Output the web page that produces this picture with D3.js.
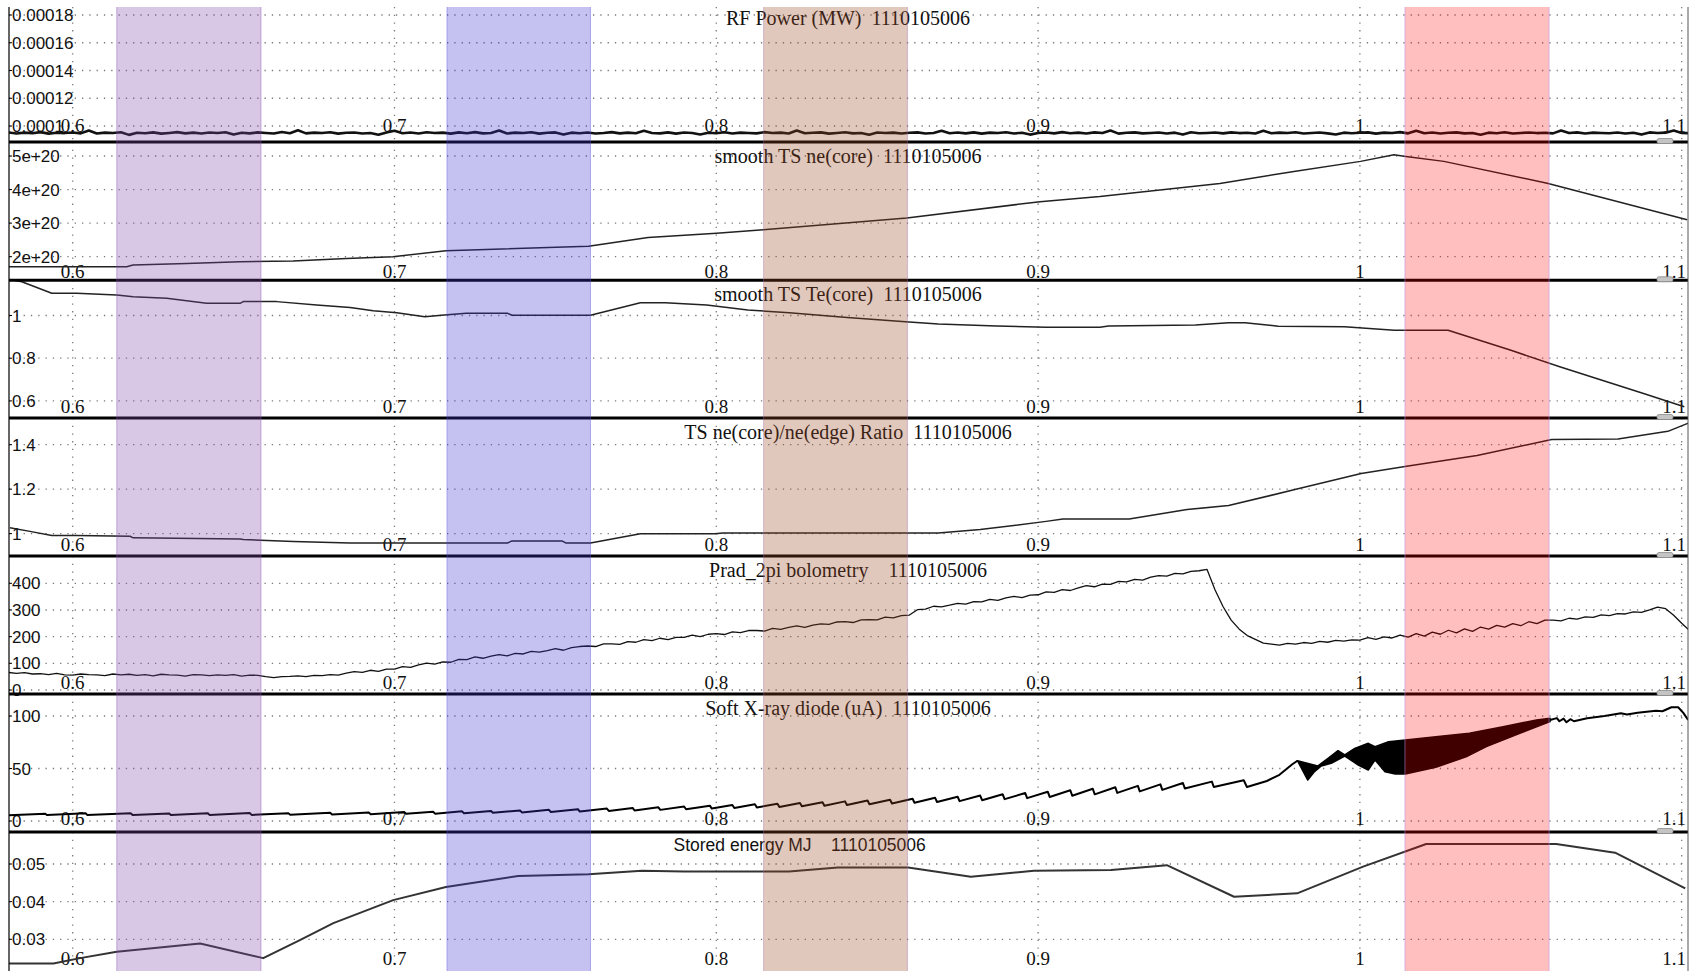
<!DOCTYPE html>
<html><head><meta charset="utf-8">
<script src="https://cdn.jsdelivr.net/npm/d3@7/dist/d3.min.js"></script>
<style>
body{margin:0;background:#fff}
svg{display:block}
text{white-space:pre}
</style>
</head><body>
<svg id="chart" width="1694" height="971"></svg>
<script>
// ---------------- DATA ----------------
const shot = "1110105006";
const xTicks = [0.6, 0.7, 0.8, 0.9, 1.0, 1.1];
const xTickLabels = ["0.6", "0.7", "0.8", "0.9", "1", "1.1"];

// highlighted time windows (s)
const bandStart = [0.6137, 0.7163, 0.8147, 1.0140];
const bandEnd   = [0.6585, 0.7609, 0.8594, 1.0588];

// Panel 1: RF Power (MW), sampled every 2.5 ms from 0.58 s, values in units of 1e-6 MW
const rfStart = 0.58, rfStep = 0.0025, rfUnit = 1e-6;
const rfPower = [
 95.4,94.6,95.2,94.8,95.6,94.5,95.1,94.9,
 95.3,94.7,96.8,94.6,95.2,94.9,95.5,93.6,
 95.1,94.8,95.4,94.5,95.0,95.6,94.7,95.2,
 94.6,95.3,94.9,95.5,93.8,95.1,94.7,95.4,
 95.0,94.6,95.7,94.8,96.9,94.7,95.2,94.9,
 95.5,94.5,95.1,95.3,94.6,95.0,93.7,95.4,
 96.6,94.8,95.3,94.6,95.5,94.9,95.2,94.5,
 95.4,94.8,95.6,94.7,95.0,96.7,94.6,95.2,
 94.9,95.5,94.5,95.1,95.4,93.8,95.2,94.8,
 95.3,94.6,95.0,95.6,94.7,95.2,94.8,96.5,
 95.0,94.7,95.4,94.5,95.3,94.9,93.9,95.1,
 94.8,95.5,94.6,95.2,95.0,94.7,95.6,94.9,
 95.2,94.6,96.8,94.8,95.1,95.4,94.5,95.0,
 95.5,94.7,95.0,93.7,95.3,94.9,95.2,94.6,
 95.1,95.4,94.6,95.0,96.6,94.8,95.3,94.7,
 95.4,94.5,95.2,94.9,95.5,94.6,95.1,93.8,
 95.0,95.3,94.7,95.6,94.8,95.2,94.6,95.4,
 94.9,96.7,94.5,95.1,95.4,94.7,95.0,95.3,
 94.6,95.2,93.8,95.5,94.8,95.0,95.3,94.7,
 95.4,94.9,95.1,94.6,96.5,94.8,95.2,94.9,
 95.5,94.6,95.0,95.3,94.7,93.9,95.2,94.8,
 95.1,95.4,94.5,95.2,94.9,95.6,94.7,96.6,
 94.8,95.3,94.6,95.1,95.4,94.7,95.0,93.7,
 95.2,94.8,95.5,94.6,95.0,95.3,94.9,95.1,
 94.7,96.8,94.9,95.4,94.6,95.2,95.0,94.8,
 95.3,94.6,95.1,93.8,95.4,94.9,95.2,96.7,
 95.0,94.8
];
const rfTicks = [0.00018, 0.00016, 0.00014, 0.00012, 0.0001];
const rfTickLabels = ["0.00018", "0.00016", "0.00014", "0.00012", "0.0001"];

// Panel 2: smooth TS ne(core) [t, m^-3]
const neCore = [
 [0.5802,1.70e20],[0.6168,1.70e20],[0.6187,1.75e20],[0.6354,1.80e20],[0.6520,1.85e20],
 [0.6685,1.87e20],[0.6851,1.95e20],[0.6995,2.00e20],[0.7160,2.18e20],[0.7603,2.31e20],
 [0.7788,2.57e20],[0.8001,2.70e20],[0.8146,2.80e20],[0.8592,3.15e20],[0.9006,3.64e20],
 [0.9192,3.79e20],[0.9565,4.18e20],[0.9795,4.54e20],[1.0002,4.84e20],[1.0106,5.04e20],
 [1.0137,4.99e20],[1.0261,4.84e20],[1.0582,4.19e20],[1.1017,3.10e20]
];
const neTicks = [5e20, 4e20, 3e20, 2e20];
const neTickLabels = ["5e+20", "4e+20", "3e+20", "2e+20"];

// Panel 3: smooth TS Te(core) [t, keV]
const teCore = [
 [0.5802,1.170],[0.5842,1.158],[0.5935,1.104],[0.6012,1.104],[0.6137,1.096],[0.6188,1.088],
 [0.6292,1.081],[0.6416,1.057],[0.6520,1.057],[0.6530,1.065],[0.6634,1.065],[0.6758,1.049],
 [0.6862,1.038],[0.6934,1.022],[0.7007,1.013],[0.7094,0.994],[0.7146,1.001],[0.7223,1.010],
 [0.7352,1.010],[0.7365,1.001],[0.7609,1.001],[0.7764,1.060],[0.7841,1.060],[0.7970,1.049],
 [0.8098,1.026],[0.8227,1.013],[0.8407,0.991],[0.8588,0.971],[0.8690,0.960],[0.8871,0.951],
 [0.9025,0.945],[0.9192,0.945],[0.9219,0.951],[0.9489,0.956],[0.9592,0.966],[0.9643,0.966],
 [0.9746,0.950],[0.9952,0.947],[1.0107,0.931],[1.0274,0.931],[1.0467,0.838],[1.0621,0.760],
 [1.0879,0.636],[1.1008,0.573]
];
const teTicks = [1, 0.8, 0.6];
const teTickLabels = ["1", "0.8", "0.6"];

// Panel 4: TS ne(core)/ne(edge) ratio
const neRatio = [
 [0.5805,1.026],[0.5867,1.010],[0.5935,0.991],[0.6012,0.991],[0.6178,0.988],[0.6188,0.981],
 [0.6520,0.976],[0.6530,0.973],[0.6686,0.965],[0.6862,0.958],[0.7017,0.958],[0.7352,0.958],
 [0.7365,0.967],[0.7520,0.967],[0.7532,0.958],[0.7609,0.958],[0.7764,0.999],[0.7995,0.999],
 [0.8021,1.003],[0.8690,1.003],[0.8820,1.018],[0.9025,1.055],[0.9077,1.066],[0.9283,1.066],
 [0.9463,1.108],[0.9592,1.126],[0.9798,1.198],[1.0004,1.270],[1.0145,1.303],[1.0364,1.351],
 [1.0596,1.423],[1.0802,1.426],[1.0957,1.460],[1.1034,1.505]
];
const ratioTicks = [1.4, 1.2, 1];
const ratioTickLabels = ["1.4", "1.2", "1"];

// Panel 5: Prad_2pi bolometry, sampled every 2.5 ms from 0.58 s
const pradStart = 0.58, pradStep = 0.0025;
const prad = [
 66,62,65,60,61,58,62,57,
 56,60,58,57,54,60,57,59,
 55,58,53,59,57,56,52,58,
 57,54,57,55,58,52,56,55,
 50,46,50,51,53,50,55,54,
 58,56,63,69,66,74,70,78,
 78,88,85,94,101,97,105,104,
 115,114,124,119,127,133,128,137,
 135,145,142,148,155,149,159,163,
 165,163,173,173,171,181,179,189,
 185,194,189,197,197,206,200,209,
 211,208,218,215,223,223,221,231,
 227,235,240,235,243,248,246,255,
 256,253,263,264,263,273,270,279,
 281,301,303,314,312,318,325,322,
 331,330,340,336,345,351,346,356,
 357,368,366,376,373,383,391,387,
 397,396,407,405,415,412,423,429,
 427,437,435,445,447,452,375,312,
 262,228,204,190,176,172,168,175,
 172,178,175,182,179,186,183,188,
 187,196,190,199,195,206,198,211,
 202,217,209,224,214,229,220,236,
 228,242,236,249,241,256,249,262,
 262,259,269,266,274,272,282,279,
 286,285,293,291,300,311,305,280,
 250,222
];
const pradTicks = [400, 300, 200, 100, 0];
const pradTickLabels = ["400", "300", "200", "100", "0"];

// Panel 6: Soft X-ray diode (uA) [t, uA] - sawtooth trace
const sxrTrace = [
 [0.5802,5.5],[0.5915,7.0],[0.5920,5.6],[0.6040,7.4],[0.6045,5.8],[0.6180,7.4],[0.6187,5.6],
 [0.6300,7.2],[0.6305,5.8],[0.6420,7.4],[0.6425,5.8],[0.6550,7.6],[0.6556,5.8],[0.6670,7.4],
 [0.6676,6.0],[0.6800,7.8],[0.6806,6.2],[0.6920,8.0],[0.6926,6.4],[0.7030,8.6],[0.7036,6.8],
 [0.7120,8.8],[0.7126,7.0],[0.7210,9.2],[0.7216,7.4],[0.7300,9.6],[0.7306,7.8],[0.7390,10.1],
 [0.7396,8.2],[0.7480,10.6],[0.7486,8.6],[0.7570,11.2],[0.7576,9.0],[0.7660,11.8],[0.7666,9.6],
 [0.7740,12.4],[0.7746,10.0],[0.7820,13.0],[0.7826,10.6],[0.7900,13.8],[0.7906,11.2],[0.7980,14.6],
 [0.7986,11.8],[0.8050,15.2],[0.8056,12.4],[0.8120,15.9],[0.8126,12.9],[0.8190,16.5],[0.8196,13.4],
 [0.8260,17.2],[0.8266,14.0],[0.8330,17.9],[0.8336,14.6],[0.8400,18.7],[0.8406,15.2],[0.8470,19.5],
 [0.8476,15.9],[0.8540,20.3],[0.8546,16.6],[0.8610,21.2],[0.8616,17.3],[0.8680,22.1],[0.8686,18.1],
 [0.8750,23.1],[0.8756,18.9],[0.8820,24.2],[0.8826,19.8],[0.8890,25.4],[0.8896,20.8],[0.8960,26.6],
 [0.8966,21.8],[0.9030,27.9],[0.9036,22.9],[0.9100,29.3],[0.9106,24.1],[0.9170,30.7],[0.9176,25.4],
 [0.9240,32.1],[0.9246,26.8],[0.9310,33.5],[0.9316,28.2],[0.9380,34.9],[0.9386,29.6],[0.9450,36.2],
 [0.9456,31.0],[0.9540,37.5],[0.9546,32.4],[0.9639,38.8],[0.9649,32.4],[0.9711,38.1],[0.9750,44.0],
 [0.9790,54.0],[0.9806,57.4]
];
// dense oscillation region: envelope of the trace
const sxrUpper = [
 [0.9806,57.4],[0.9869,52.4],[0.9901,59.7],[0.9932,67.0],[0.9953,62.9],[0.9984,69.2],
 [1.0026,74.0],[1.0047,70.8],[1.0089,75.5],[1.0141,77.1],[1.0236,80.3],[1.0340,83.5],
 [1.0445,89.8],[1.0549,96.2],[1.0591,97.8]
];
const sxrLower = [
 [0.9806,57.4],[0.9838,39.0],[0.9859,47.0],[0.9880,52.4],[0.9911,54.9],[0.9953,61.9],
 [0.9995,53.3],[1.0026,48.6],[1.0047,58.1],[1.0078,47.0],[1.0110,44.8],[1.0141,44.8],
 [1.0236,51.1],[1.0330,61.2],[1.0393,70.8],[1.0497,83.5],[1.0549,89.8],[1.0591,94.6]
];
const sxrTail = [
 [1.0591,96.2],[1.0612,98.0],[1.0620,95.0],[1.0633,97.5],[1.0642,94.0],[1.0654,97.0],
 [1.0665,95.0],[1.0706,97.8],[1.0760,100.0],[1.0811,102.6],[1.0830,101.5],[1.0863,103.2],
 [1.0920,105.0],[1.0940,104.5],[1.0968,108.3],[1.0989,108.3],[1.1005,103.0],[1.1020,96.2]
];
const sxrTicks = [100, 50, 0];
const sxrTickLabels = ["100", "50", "0"];

// Panel 7: Stored energy MJ [t, MJ]
const storedEnergy = [
 [0.5802,0.0236],[0.5940,0.0236],[0.6023,0.0250],[0.6137,0.0267],[0.6396,0.0289],[0.6592,0.0250],
 [0.6706,0.0298],[0.6810,0.0343],[0.6996,0.0404],[0.7160,0.0439],[0.7384,0.0468],[0.7603,0.0473],
 [0.7769,0.0482],[0.7900,0.0480],[0.8226,0.0480],[0.8378,0.0491],[0.8596,0.0491],[0.8791,0.0466],
 [0.8987,0.0482],[0.9227,0.0484],[0.9400,0.0497],[0.9609,0.0413],[0.9805,0.0422],[1.0010,0.0493],
 [1.0206,0.0553],[1.0610,0.0553],[1.0793,0.0530],[1.1011,0.0435]
];
const wTicks = [0.05, 0.04, 0.03];
const wTickLabels = ["0.05", "0.04", "0.03"];

const titles = [
 "RF Power (MW)  " + shot,
 "smooth TS ne(core)  " + shot,
 "smooth TS Te(core)  " + shot,
 "TS ne(core)/ne(edge) Ratio  " + shot,
 "Prad_2pi bolometry    " + shot,
 "Soft X-ray diode (uA)  " + shot,
 "Stored energy MJ    " + shot
];

// ---------------- LAYOUT ----------------
const svg = d3.select("#chart");
const plotL = 9, plotR = 1688;
const x = d3.scaleLinear().domain([0.6, 1.1]).range([72.7, 1681.7]);
const panelTop = [4, 142, 280.3, 418, 556, 694, 832];
const panelH = 138;
// pixel rows of the first and last tick of each panel
const tickPx = [[15,126],[156,256.7],[315.5,400.9],[444.7,533.6],[583.3,690],[716,821],[864,939.3]];
const xLabelOff = [16, 8.6, 11.3, 11, 11.3, 13.7, 11.7];

const bandFill = ["rgba(128,72,168,0.30)","rgba(62,52,212,0.30)","rgba(155,72,38,0.30)","rgba(255,0,0,0.25)"];
const bandEdge = ["rgba(140,80,180,0.45)","rgba(90,80,220,0.40)","rgba(160,110,170,0.40)","rgba(190,140,230,0.55)"];

const regular = (vals, start, step, unit=1) => vals.map((v,i)=>[start+i*step, v*unit]);

const panels = [
 {ticks: rfTicks, labels: rfTickLabels, series:[{d: regular(rfPower, rfStart, rfStep, rfUnit), w:2.6, c:"#111"}]},
 {ticks: neTicks, labels: neTickLabels, series:[{d: neCore, w:1.5, c:"#222"}]},
 {ticks: teTicks, labels: teTickLabels, series:[{d: teCore, w:1.5, c:"#222"}]},
 {ticks: ratioTicks, labels: ratioTickLabels, series:[{d: neRatio, w:1.5, c:"#222"}]},
 {ticks: pradTicks, labels: pradTickLabels, series:[{d: regular(prad, pradStart, pradStep), w:1.3, c:"#111"}]},
 {ticks: sxrTicks, labels: sxrTickLabels, series:[{d: sxrTrace, w:2.0, c:"#000"},{d: sxrTail, w:2.0, c:"#000"}], band:true},
 {ticks: wTicks, labels: wTickLabels, series:[{d: storedEnergy, w:2.0, c:"#333"}]}
];

const defs = svg.append("defs");

panels.forEach((p, i) => {
  const top = panelTop[i], bot = top + panelH;
  const tMax = d3.max(p.ticks), tMin = d3.min(p.ticks);
  const y = d3.scaleLinear().domain([tMin, tMax]).range([tickPx[i][1], tickPx[i][0]]);
  const g = svg.append("g");

  defs.append("clipPath").attr("id", "clip" + i)
    .append("rect").attr("x", plotL).attr("y", top).attr("width", plotR - plotL).attr("height", panelH);

  // horizontal dotted grid
  g.selectAll(".hg").data(p.ticks).enter().append("line")
    .attr("x1", plotL).attr("x2", plotR)
    .attr("y1", d => y(d)).attr("y2", d => y(d))
    .attr("stroke", "#7a7a7a").attr("stroke-width", 1.3).attr("stroke-dasharray", "1.3 6");
  // vertical dotted grid
  g.selectAll(".vg").data(xTicks).enter().append("line")
    .attr("x1", d => x(d)).attr("x2", d => x(d))
    .attr("y1", Math.max(top, 7)).attr("y2", bot)
    .attr("stroke", "#7a7a7a").attr("stroke-width", 1.3).attr("stroke-dasharray", "1.3 6.4");

  // y tick marks and labels
  g.selectAll(".yt").data(p.ticks).enter().append("line")
    .attr("x1", plotL).attr("x2", plotL + 3).attr("y1", d => y(d)).attr("y2", d => y(d))
    .attr("stroke", "#000").attr("stroke-width", 1);
  g.selectAll(".yl").data(p.ticks).enter().append("text")
    .attr("x", 12).attr("y", d => y(d)).attr("dy", "0.36em")
    .attr("font-family", "'Liberation Sans', Arial, sans-serif").attr("font-size", 17)
    .attr("fill", "#111")
    .text((d, k) => p.labels[k]);

  // x tick labels
  g.selectAll(".xl").data(xTicks).enter().append("text")
    .attr("x", (d, k) => k === xTicks.length - 1 ? 1686 : x(d))
    .attr("y", bot - xLabelOff[i] + 6.4)
    .attr("text-anchor", (d, k) => k === xTicks.length - 1 ? "end" : "middle")
    .attr("font-family", "'Liberation Serif', 'Times New Roman', serif").attr("font-size", 19)
    .attr("fill", "#111")
    .text((d, k) => xTickLabels[k]);

  // title
  if (i < 6) {
    g.append("text").attr("x", 848).attr("y", top + 21)
      .attr("text-anchor", "middle")
      .attr("font-family", "'Liberation Serif', 'Times New Roman', serif").attr("font-size", 20)
      .attr("fill", "#111").attr("xml:space", "preserve")
      .text(titles[i]);
  } else {
    g.append("text").attr("x", 673.5).attr("y", top + 19)
      .attr("font-family", "'Liberation Sans', Arial, sans-serif").attr("font-size", 17.5)
      .attr("fill", "#111").attr("xml:space", "preserve")
      .text(titles[i]);
  }

  // data
  const line = d3.line().x(d => x(d[0])).y(d => y(d[1]));
  const dg = g.append("g").attr("clip-path", `url(#clip${i})`);
  if (p.band) {
    const poly = sxrUpper.concat(sxrLower.slice().reverse());
    dg.append("path").attr("d", line(poly) + "Z")
      .attr("fill", "#000").attr("stroke", "#000").attr("stroke-width", 1.5).attr("stroke-linejoin", "round");
  }
  p.series.forEach(s => {
    dg.append("path").attr("d", line(s.d))
      .attr("fill", "none").attr("stroke", s.c).attr("stroke-width", s.w)
      .attr("stroke-linejoin", "round");
  });
});

// panel separators
const seps = panelTop.slice(1);
svg.selectAll(".sep").data(seps).enter().append("line")
  .attr("x1", plotL).attr("x2", plotR).attr("y1", d => d).attr("y2", d => d)
  .attr("stroke", "#000").attr("stroke-width", 3);

// left / right borders
svg.append("line").attr("x1", plotL).attr("x2", plotL).attr("y1", 7).attr("y2", 971)
  .attr("stroke", "#000").attr("stroke-width", 1.2);
svg.append("line").attr("x1", plotR).attr("x2", plotR).attr("y1", 7).attr("y2", 971)
  .attr("stroke", "#555").attr("stroke-width", 1);

// highlight windows, drawn on top
const bands = bandStart.map((s, k) => ({s, e: bandEnd[k], k}));
svg.selectAll(".band").data(bands).enter().append("rect")
  .attr("x", d => x(d.s)).attr("width", d => x(d.e) - x(d.s))
  .attr("y", 7).attr("height", 971 - 7)
  .attr("fill", d => bandFill[d.k]);
svg.selectAll(".bandL").data(bands).enter().append("line")
  .attr("x1", d => x(d.s)).attr("x2", d => x(d.s)).attr("y1", 7).attr("y2", 971)
  .attr("stroke", d => bandEdge[d.k]).attr("stroke-width", 1);
svg.selectAll(".bandR").data(bands).enter().append("line")
  .attr("x1", d => x(d.e)).attr("x2", d => x(d.e)).attr("y1", 7).attr("y2", 971)
  .attr("stroke", d => bandEdge[d.k]).attr("stroke-width", 1);

// small scroll handles at each separator
svg.selectAll(".hdl").data(seps).enter().append("rect")
  .attr("x", 1657).attr("y", d => d - 3.5).attr("width", 16).attr("height", 5).attr("rx", 2)
  .attr("fill", "#c4c4c4").attr("stroke", "#8c8c8c").attr("stroke-width", 0.8);
</script>
</body></html>
